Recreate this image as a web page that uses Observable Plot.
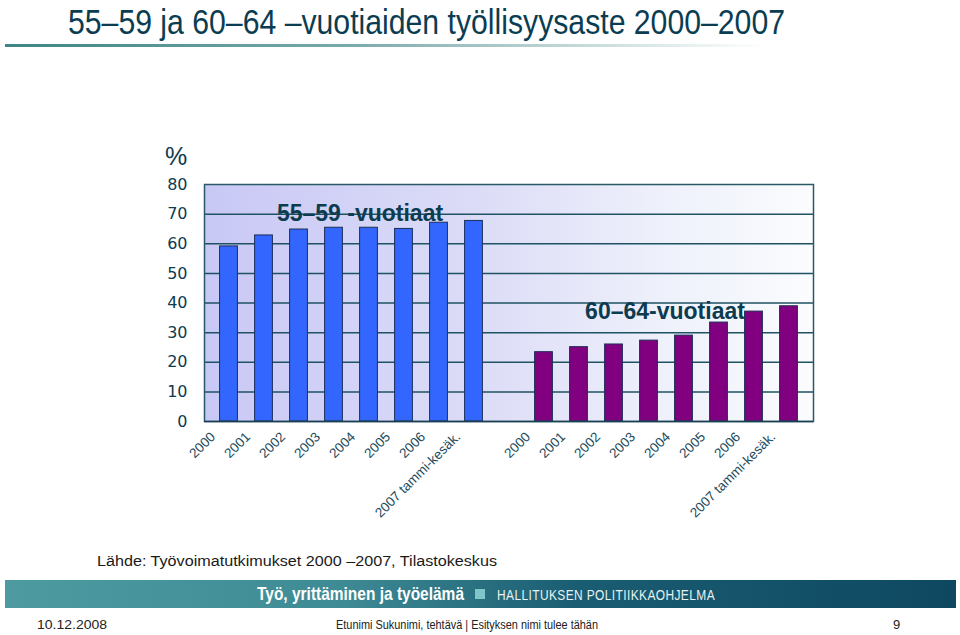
<!DOCTYPE html>
<html>
<head>
<meta charset="utf-8">
<script src="https://cdn.jsdelivr.net/npm/d3@7"></script>
<script src="https://cdn.jsdelivr.net/npm/@observablehq/plot@0.6"></script>
<style>
  html, body { margin: 0; padding: 0; background: #fff; }
  #page { position: relative; width: 960px; height: 635px; overflow: hidden; font-family: "Liberation Sans", Arial, sans-serif; }
  .abs { position: absolute; white-space: nowrap; }
  #title { left: 68px; top: 2px; font-family: "Liberation Sans Narrow", "Arial Narrow", "Liberation Sans", Arial, sans-serif; font-size: 35px; color: #0b3d52; transform-origin: 0 0; }
  #rule { left: 5px; top: 44px; width: 760px; height: 3px; background: linear-gradient(to right, #3d8585 0%, #7aa9a9 45%, #ffffff 100%); }
  #pct { left: 165px; top: 142px; font-size: 25px; color: #0d3b4f; }
  #chart { left: 0; top: 140px; }
  #source { left: 97px; top: 552px; font-size: 15.5px; color: #1a1a1a; transform-origin: 0 0; }
  #banner { left: 5px; top: 580px; width: 951px; height: 28px; background: linear-gradient(to right, #4d9ba1 0%, #3f8b95 35%, #1a5d72 60%, #0e4860 100%); }
  #b1 { left: 257px; top: 583px; font-family: "Liberation Sans Narrow", "Liberation Sans", sans-serif; font-weight: bold; font-size: 19px; color: #fff; transform-origin: 0 0; }
  #bsq { left: 475px; top: 589px; width: 10px; height: 10px; background: #7fc6ca; }
  #b2 { left: 497px; top: 586px; font-size: 15px; color: #e6f2f3; letter-spacing: 0.5px; transform-origin: 0 0; }
  .foot { top: 617px; font-family: "Liberation Sans Narrow", "Liberation Sans", sans-serif; font-size: 13px; color: #222; transform-origin: 0 0; }
</style>
</head>
<body>
<div id="page">
  <div id="title" class="abs">55–59 ja 60–64 –vuotiaiden työllisyysaste 2000–2007</div>
  <div id="rule" class="abs"></div>
  <div id="pct" class="abs">%</div>
  <div id="chart" class="abs"></div>
  <div id="source" class="abs">Lähde: Työvoimatutkimukset  2000 –2007, Tilastokeskus</div>
  <div id="banner" class="abs"></div>
  <div id="b1" class="abs">Työ, yrittäminen ja työelämä</div>
  <div id="bsq" class="abs"></div>
  <div id="b2" class="abs">HALLITUKSEN POLITIIKKAOHJELMA</div>
  <div id="fdate" class="abs foot" style="left:37px">10.12.2008</div>
  <div id="fmid" class="abs foot" style="left:336px">Etunimi Sukunimi, tehtävä | Esityksen nimi tulee tähän</div>
  <div id="fnum" class="abs foot" style="left:893px">9</div>
</div>
<script>
// ---- data ----
const ageGroups = ["55–59 -vuotiaat", "60–64-vuotiaat"];
const years = ["2000", "2001", "2002", "2003", "2004", "2005", "2006", "2007 tammi-kesäk."];
const rate5559 = [59.1, 62.8, 64.8, 65.4, 65.4, 65.0, 67.1, 67.7];
const rate6064 = [23.4, 25.1, 26.0, 27.3, 29.0, 33.4, 37.1, 38.9];
const yTicks = [0, 10, 20, 30, 40, 50, 60, 70, 80];

// ---- build table ----
const rows = [
  ...years.map((y, i) => ({key: "A|" + y, group: ageGroups[0], value: rate5559[i]})),
  ...years.map((y, i) => ({key: "B|" + y, group: ageGroups[1], value: rate6064[i]}))
];
const xDomain = [...years.map(y => "A|" + y), "gap", ...years.map(y => "B|" + y)];

const ink = "#0d3b4f";
const gridColor = "#1f5262";

function background(index, scales, values, dim) {
  const g = d3.create("svg:g");
  const defs = g.append("defs");
  const lg = defs.append("linearGradient").attr("id", "plotbg").attr("x1", "0").attr("x2", "1").attr("y1", "0").attr("y2", "0");
  lg.append("stop").attr("offset", "0%").attr("stop-color", "#c8c8f6");
  lg.append("stop").attr("offset", "45%").attr("stop-color", "#dcdcf7");
  lg.append("stop").attr("offset", "75%").attr("stop-color", "#eef0fb");
  lg.append("stop").attr("offset", "100%").attr("stop-color", "#fafcfe");
  g.append("rect")
    .attr("x", dim.marginLeft).attr("y", dim.marginTop)
    .attr("width", dim.width - dim.marginLeft - dim.marginRight)
    .attr("height", dim.height - dim.marginTop - dim.marginBottom)
    .attr("fill", "url(#plotbg)");
  return g.node();
}

const chart = Plot.plot({
  width: 960,
  height: 380,
  marginLeft: 204,
  marginRight: 147,
  marginTop: 44,
  marginBottom: 99,
  style: {background: "transparent", fontFamily: "Liberation Sans, Arial, sans-serif", color: ink},
  x: {type: "band", domain: xDomain, padding: 0},
  y: {domain: [0, 80]},
  color: {domain: ageGroups, range: ["#3366ff", "#800080"]},
  marks: [
    background,
    Plot.ruleY(yTicks.filter(d => d > 0 && d < 80), {stroke: gridColor, strokeWidth: 1.5}),
    Plot.barY(rows, {x: "key", y: "value", fill: "group", stroke: "#1b2f55", strokeWidth: 1, insetLeft: 8.6, insetRight: 8.6}),
    Plot.frame({stroke: "#2a5866", strokeWidth: 1.5}),
    Plot.ruleY([0], {stroke: "#1a3f52", strokeWidth: 1.5}),
    Plot.axisY({ticks: yTicks, tickSize: 0, tickPadding: 17, fontSize: 16, fontFamily: "DejaVu Sans, sans-serif", fill: ink, label: null}),
    Plot.axisX({tickRotate: -45, tickSize: 0, tickPadding: 13, dx: -16, fontSize: 13.5, fill: "#1b4a5c", label: null,
      tickFormat: d => d === "gap" ? "" : d.split("|")[1]}),
    Plot.text([{label: ageGroups[0], key: "A|2004", v: 70.2}], {x: "key", y: "v", text: "label", dx: -9, fontSize: 23, fontWeight: "bold", fill: ink}),
    Plot.text([{label: ageGroups[1], key: "B|2004", v: 37.1}], {x: "key", y: "v", text: "label", dx: -19, fontSize: 23, fontWeight: "bold", fill: ink})
  ]
});
document.getElementById("chart").appendChild(chart);

// fit condensed text widths to reference
function fit(id, w) {
  const el = document.getElementById(id);
  const r = el.getBoundingClientRect().width;
  if (r > 0) el.style.transform = `scaleX(${w / r})`;
}
fit("title", 717);
fit("source", 400);
fit("b1", 207);
fit("b2", 218);
fit("fdate", 70);
fit("fmid", 262);
</script>
</body>
</html>
